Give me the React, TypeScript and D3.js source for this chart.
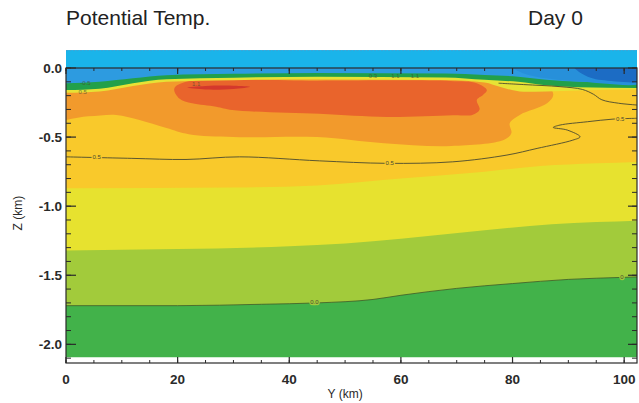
import React from "react";
import * as d3 from "d3";

type Pt = [number, number]; // [Y km, Z km]

// contour band boundaries (lower edge of each band)
const greenTop: Pt[] = [[0, -1.72], [20, -1.72], [35, -1.71], [45, -1.70], [55, -1.675], [60, -1.645], [70, -1.595], [80, -1.56], [90, -1.53], [100, -1.515], [102.3, -1.512]];
const yellowGreenTop: Pt[] = [[0, -1.32], [20, -1.31], [40, -1.29], [50, -1.27], [60, -1.235], [75, -1.175], [87, -1.13], [95, -1.115], [102.3, -1.105]];
const yellowTop: Pt[] = [[0, -0.87], [30, -0.865], [45, -0.85], [60, -0.80], [75, -0.75], [85, -0.71], [95, -0.69], [102.3, -0.68]];

const orangePatch: Pt[] = [[-3, 0.02], [-3, -0.36], [4, -0.35], [9, -0.34], [13, -0.375], [18, -0.435], [22, -0.48], [30, -0.50], [45, -0.50], [57, -0.545], [69, -0.565], [78.5, -0.52], [79.8, -0.47], [79.5, -0.40], [81.3, -0.34], [86.2, -0.256], [87.3, -0.196], [86.5, -0.13], [84, -0.08], [78, 0.02]];
const redPatch: Pt[] = [[21.5, -0.10], [19.4, -0.15], [20.3, -0.22], [22.6, -0.256], [26.9, -0.28], [29.8, -0.304], [45.4, -0.332], [57.5, -0.355], [69.3, -0.342], [72.9, -0.338], [74.1, -0.30], [73.6, -0.232], [74.7, -0.196], [75.4, -0.16], [73.6, -0.11], [68.8, -0.094], [45, -0.092]];
const deepRedPatch: Pt[] = [[21.7, -0.142], [25, -0.13], [30, -0.128], [33, -0.136], [30, -0.152], [25, -0.156]];

const surfaceYellowBase: Pt[] = [[0, -0.18], [6, -0.17], [12, -0.13], [18, -0.10], [30, -0.088], [45, -0.083], [68, -0.087], [75, -0.105], [78, -0.14], [82, -0.172], [86, -0.17], [92, -0.162], [102.3, -0.155]];
const surfaceGreenBase: Pt[] = [[0, -0.16], [6, -0.15], [12, -0.11], [18, -0.082], [30, -0.07], [45, -0.063], [68, -0.068], [75, -0.085], [81, -0.10], [86, -0.125], [92, -0.14], [102.3, -0.145]];
const surfaceBlueBase: Pt[] = [[0, -0.11], [6, -0.10], [12, -0.075], [18, -0.052], [30, -0.042], [45, -0.036], [68, -0.04], [75, -0.05], [81, -0.063], [86, -0.085], [92, -0.10], [102.3, -0.11]];
const midBluePatch: Pt[] = [[80, 0.01], [104, 0.01], [104, -0.10], [92, -0.098], [86, -0.075], [82, -0.04]];
const darkBluePatch: Pt[] = [[91, 0.01], [104, 0.01], [104, -0.085], [96, -0.087], [94, -0.07], [92, -0.03]];

// contour lines
const contourMid: Pt[] = [[0, -0.643], [11.8, -0.654], [21.5, -0.662], [31.1, -0.643], [45.4, -0.672], [57.5, -0.69], [69.3, -0.679], [79, -0.63], [84.4, -0.582], [90.8, -0.522], [92.1, -0.498], [89.8, -0.449], [87.3, -0.43], [88.5, -0.413], [93.4, -0.389], [98, -0.37], [102.3, -0.364]];
const contourUpper: Pt[] = [[77.5, -0.11], [82, -0.12], [88.5, -0.135], [92.5, -0.155], [94.5, -0.19], [96, -0.23], [99, -0.255], [102.3, -0.268]];

const contourLabels = [
  { y: 5.5, z: -0.645, text: "0.5", bg: "#f9c92b" },
  { y: 58, z: -0.69, text: "0.5", bg: "#f9c92b" },
  { y: 99.3, z: -0.37, text: "0.5", bg: "#f9c92b" },
  { y: 44.5, z: -1.695, text: "0.0", bg: "#a2cb3b" },
  { y: 99.6, z: -1.515, text: "0", bg: "#a2cb3b" },
  { y: 3, z: -0.17, text: "0.5", bg: "" },
  { y: 3.5, z: -0.105, text: "-0.5", bg: "" },
  { y: 23.3, z: -0.118, text: "1.1", bg: "" },
  { y: 55, z: -0.055, text: "0.3", bg: "" },
  { y: 59, z: -0.055, text: "1.1", bg: "" },
  { y: 62.5, z: -0.055, text: "1.1", bg: "" },
];

const xTickLabels = [0, 20, 40, 60, 80, 100];
const zTickLabels = [0, -0.5, -1.0, -1.5, -2.0];

const font = "'Liberation Sans', Arial, Helvetica, sans-serif";

export default function App() {
  const x = d3.scaleLinear().domain([0, 102.3]).range([66, 637]);
  const z = d3.scaleLinear().domain([-2.135, 0]).range([363, 68]);
  const zBottom = -2.095;

  const band = d3.area<Pt>().x((d) => x(d[0])).y0((d) => z(d[1])).y1(z(0.01)).curve(d3.curveMonotoneX);
  const blob = d3.line<Pt>().x((d) => x(d[0])).y((d) => z(d[1])).curve(d3.curveCatmullRomClosed.alpha(0.5));
  const line = d3.line<Pt>().x((d) => x(d[0])).y((d) => z(d[1])).curve(d3.curveCatmullRom.alpha(0.5));
  const edge = d3.line<Pt>().x((d) => x(d[0])).y((d) => z(d[1])).curve(d3.curveMonotoneX);

  const bands = [
    { data: greenTop, color: "#a2cb3b" },
    { data: yellowGreenTop, color: "#e7e22f" },
    { data: yellowTop, color: "#f9c92b" },
  ];
  const surface = [
    { data: surfaceYellowBase, color: "#e7e235" },
    { data: surfaceGreenBase, color: "#22a04a" },
    { data: surfaceBlueBase, color: "#2d9be0" },
  ];

  const majorZ = z.ticks(5);
  const minorZ = z.ticks(20);
  const majorX = x.ticks(5);
  const minorX = x.ticks(20);
  const axis = "#2a2a2a";

  return (
    <svg width={639} height={403} style={{ position: "absolute", left: 0, top: 0, background: "#fff" }} fontFamily={font}>
      <defs>
        <clipPath id="plot">
          <rect x={x(0)} y={z(0)} width={x(102.3) - x(0)} height={z(zBottom) - z(0)} />
        </clipPath>
      </defs>

      <text x={66} y={25} fontSize={21} fill="#222">Potential Temp.</text>
      <text x={528} y={25} fontSize={21} fill="#222">Day 0</text>

      {/* layer above the surface */}
      <rect x={x(0)} y={z(0.13)} width={x(102.3) - x(0)} height={z(0) - z(0.13)} fill="#1ab4ea" />
      <line x1={x(0)} x2={x(102.3)} y1={z(0.13) + 0.5} y2={z(0.13) + 0.5} stroke="#4a9fcf" strokeWidth={0.8} strokeDasharray="2,1.5" />

      <g clipPath="url(#plot)">
        <rect x={x(0)} y={z(0)} width={x(102.3) - x(0)} height={z(zBottom) - z(0)} fill="#42b24a" />
        {bands.map((b, i) => (
          <path key={i} d={band(b.data) ?? ""} fill={b.color} />
        ))}
        <path d={blob(orangePatch) ?? ""} fill="#f29a2c" />
        <path d={blob(redPatch) ?? ""} fill="#e9642c" />
        <path d={blob(deepRedPatch) ?? ""} fill="#d4382c" />
        {surface.map((b, i) => (
          <path key={i} d={band(b.data) ?? ""} fill={b.color} />
        ))}
        <path d={blob(midBluePatch) ?? ""} fill="#2790da" />
        <path d={blob(darkBluePatch) ?? ""} fill="#1c6cc4" />

        <path d={edge(greenTop) ?? ""} fill="none" stroke="#3c5a2a" strokeWidth={0.8} />
        <path d={line(contourMid) ?? ""} fill="none" stroke="#4a4a30" strokeWidth={0.9} />
        <path d={line(contourUpper) ?? ""} fill="none" stroke="#4a4a30" strokeWidth={0.9} />
        {contourLabels.map((l, i) => (
          <text key={i} x={x(l.y)} y={z(l.z)} dy="0.35em" textAnchor="middle" fontSize={6}
            fill="#4a4a30" stroke={l.bg || "none"} strokeWidth={2.5} paintOrder="stroke" opacity={l.bg ? 1 : 0.7}>{l.text}</text>
        ))}
      </g>

      {/* frame */}
      <rect x={x(0)} y={z(0)} width={x(102.3) - x(0)} height={z(-2.135) - z(0)} fill="none" stroke={axis} strokeWidth={1.2} />

      {minorZ.map((t, i) => (
        <g key={"mz" + i} stroke={axis} strokeWidth={1}>
          <line x1={x(0)} x2={x(0) + 5} y1={z(t)} y2={z(t)} />
          <line x1={x(102.3)} x2={x(102.3) - 5} y1={z(t)} y2={z(t)} />
        </g>
      ))}
      {majorZ.map((t, i) => (
        <g key={"Mz" + i} stroke={axis} strokeWidth={1.2}>
          <line x1={x(0)} x2={x(0) + 10} y1={z(t)} y2={z(t)} />
          <line x1={x(102.3)} x2={x(102.3) - 9} y1={z(t)} y2={z(t)} />
        </g>
      ))}
      {minorX.map((t, i) => (
        <g key={"mx" + i} stroke={axis} strokeWidth={1}>
          <line x1={x(t)} x2={x(t)} y1={z(0)} y2={z(0) + 3} />
          <line x1={x(t)} x2={x(t)} y1={z(-2.135)} y2={z(-2.135) - 3} />
        </g>
      ))}
      {majorX.map((t, i) => (
        <g key={"Mx" + i} stroke={axis} strokeWidth={1.2}>
          <line x1={x(t)} x2={x(t)} y1={z(0)} y2={z(0) + 6} />
          <line x1={x(t)} x2={x(t)} y1={z(-2.135)} y2={z(-2.135) - 6} />
        </g>
      ))}

      {zTickLabels.map((t, i) => (
        <text key={"zl" + i} x={62} y={z(t) + 5} textAnchor="end" fontSize={13.5} fontWeight="bold" fill="#2a2a2a">
          {d3.format(".1f")(t).replace("−", "-")}
        </text>
      ))}
      {xTickLabels.map((t, i) => (
        <text key={"xl" + i} x={x(t)} y={384} textAnchor="middle" fontSize={13.5} fontWeight="bold" fill="#2a2a2a">{t}</text>
      ))}
      <text x={x(50)} y={398} textAnchor="middle" fontSize={12} fill="#2a2a2a">Y (km)</text>
      <text transform={`translate(22,${z(-1.05)}) rotate(-90)`} textAnchor="middle" fontSize={12} fill="#2a2a2a">Z (km)</text>
    </svg>
  );
}
